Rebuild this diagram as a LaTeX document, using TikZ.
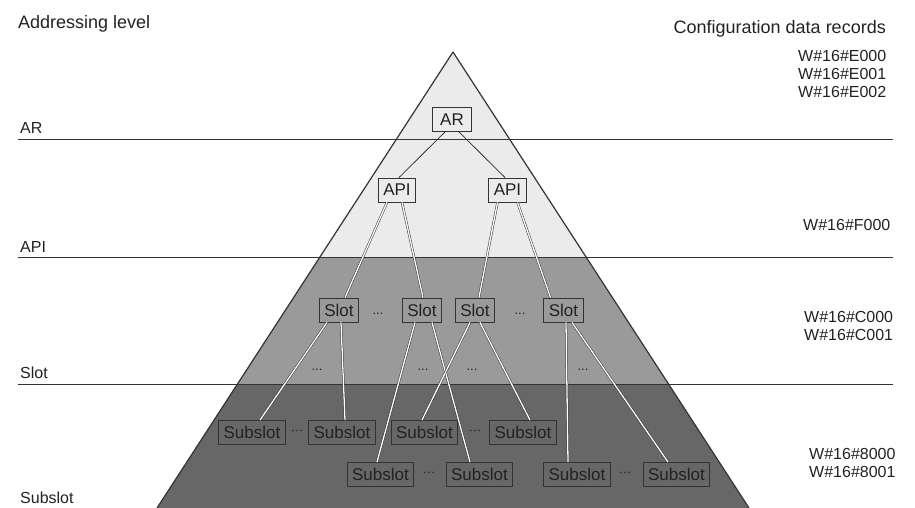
\documentclass[tikz,border=0pt]{standalone}
\usepackage{fontspec}
\setmainfont{Liberation Sans}
\usepackage{tikz}
\usepackage{xcolor}
\usetikzlibrary{positioning}

\definecolor{bandtop}{HTML}{EBEBEB}
\definecolor{bandmid}{HTML}{9A9A9A}
\definecolor{bandlow}{HTML}{676767}
\definecolor{edge}{HTML}{333333}
\definecolor{txt}{HTML}{222222}

\begin{document}
\begin{tikzpicture}[x=1pt,y=-1pt]
\tikzstyle{every node}+=[inner sep=0pt, text=txt]
\tikzstyle{box}=[draw=edge, line width=0.9pt, minimum height=24pt, inner xsep=5pt, font=\fontsize{17}{17}\selectfont]
\tikzstyle{lvl}=[anchor=base west, font=\fontsize{16}{16}\selectfont]
\tikzstyle{rec}=[anchor=base west, align=left, font=\fontsize{16}{18}\selectfont]
\tikzstyle{head}=[font=\fontsize{18}{18}\selectfont]
\tikzstyle{dots}=[font=\fontsize{13}{13}\selectfont]
\tikzstyle{link}=[draw=edge, line width=0.8pt]
\tikzstyle{dlink}=[draw=edge, line width=0.5pt, double=white, double distance=1.3pt]
\tikzstyle{level}=[draw=edge, line width=0.9pt]
\useasboundingbox (0,0) rectangle (915,508);
% pyramid bands
\begin{scope}
\clip (453,52) -- (157,508) -- (749,508) -- cycle;
\fill[bandtop] (150,40) rectangle (760,257);
\fill[bandmid] (150,257) rectangle (760,384);
\fill[bandlow] (150,384) rectangle (760,510);
\end{scope}
\draw[edge, line width=1.2pt, line join=round] (157,508) -- (453,52) -- (749,508);
% levels
\draw[level] (18,139) -- (893,139);
\draw[level] (18,257) -- (893,257);
\draw[level] (18,384) -- (893,384);
\node[head, anchor=base west] (hlevel) at (18,29) {Addressing level};
\node[head, anchor=base east] (hrec) at (886,34) {Configuration data records};
\node[lvl] (lar) at (20,133) {AR};
\node[lvl] (lapi) at (20,252) {API};
\node[lvl] (lslot) at (20,378) {Slot};
\node[lvl] (lsub) at (20,503) {Subslot};
\node[rec] (rar) at (798,98) {W\#16\#E000\\W\#16\#E001\\W\#16\#E002};
\node[rec] (rapi) at (803,230) {W\#16\#F000};
\node[rec] (rslot) at (804,340) {W\#16\#C000\\W\#16\#C001};
\node[rec] (rsub) at (809,477) {W\#16\#8000\\W\#16\#8001};
% tree
\node[box, minimum width=39pt] (ar) at (452,119.5) {AR};
\node[box] (apil) at (397,190) {API};
\node[box] (apir) at (507.5,190) {API};
\node[box] (slota) at (339,310) {Slot};
\node[box] (slotb) at (422,310) {Slot};
\node[box] (slotc) at (475,310) {Slot};
\node[box] (slotd) at (563.5,310) {Slot};
\node[box] (suba) at (252,432.5) {Subslot};
\node[box] (subb) at (342,432.5) {Subslot};
\node[box] (subc) at (424.5,432.5) {Subslot};
\node[box] (subd) at (523,432.5) {Subslot};
\node[box] (sube) at (380.5,474.5) {Subslot};
\node[box] (subf) at (479.5,474.5) {Subslot};
\node[box] (subg) at (577,474.5) {Subslot};
\node[box] (subh) at (676.5,474.5) {Subslot};
\node[dots] (dab) at (378,314) {...};
\node[dots] (dcd) at (520,314) {...};
\node[dots] (da) at (317,370) {...};
\node[dots] (db) at (423,370) {...};
\node[dots] (dc) at (472,370) {...};
\node[dots] (dd) at (583,370) {...};
\node[dots] (dsab) at (297,432) {···};
\node[dots] (dscd) at (475,432) {···};
\node[dots] (dsef) at (429,474) {···};
\node[dots] (dsgh) at (625,474) {···};
\draw[link] ([xshift=-7]ar.south) -- ([xshift=2]apil.north);
\draw[link] ([xshift=7]ar.south) -- ([xshift=-2.5]apir.north);
\draw[dlink] ([xshift=-10]apil.south) -- ([xshift=6]slota.north);
\draw[dlink] ([xshift=5]apil.south) -- ([xshift=1]slotb.north);
\draw[dlink] ([xshift=-10]apir.south) -- ([xshift=4]slotc.north);
\draw[dlink] ([xshift=10]apir.south) -- ([xshift=-13]slotd.north);
\draw[dlink] ([xshift=-12]slota.south) -- ([xshift=8]suba.north);
\draw[dlink] ([xshift=2]slota.south) -- ([xshift=3]subb.north);
\draw[dlink] ([xshift=-7]slotb.south) -- ([xshift=-3.5]sube.north);
\draw[dlink] ([xshift=10]slotb.south) -- ([xshift=-9.5]subf.north);
\draw[dlink] ([xshift=-5]slotc.south) -- ([xshift=-2.5]subc.north);
\draw[dlink] ([xshift=5]slotc.south) -- ([xshift=7]subd.north);
\draw[dlink] ([xshift=2.5]slotd.south) -- ([xshift=-9]subg.north);
\draw[dlink] ([xshift=8.5]slotd.south) -- ([xshift=-8.5]subh.north);
\end{tikzpicture}
\end{document}
